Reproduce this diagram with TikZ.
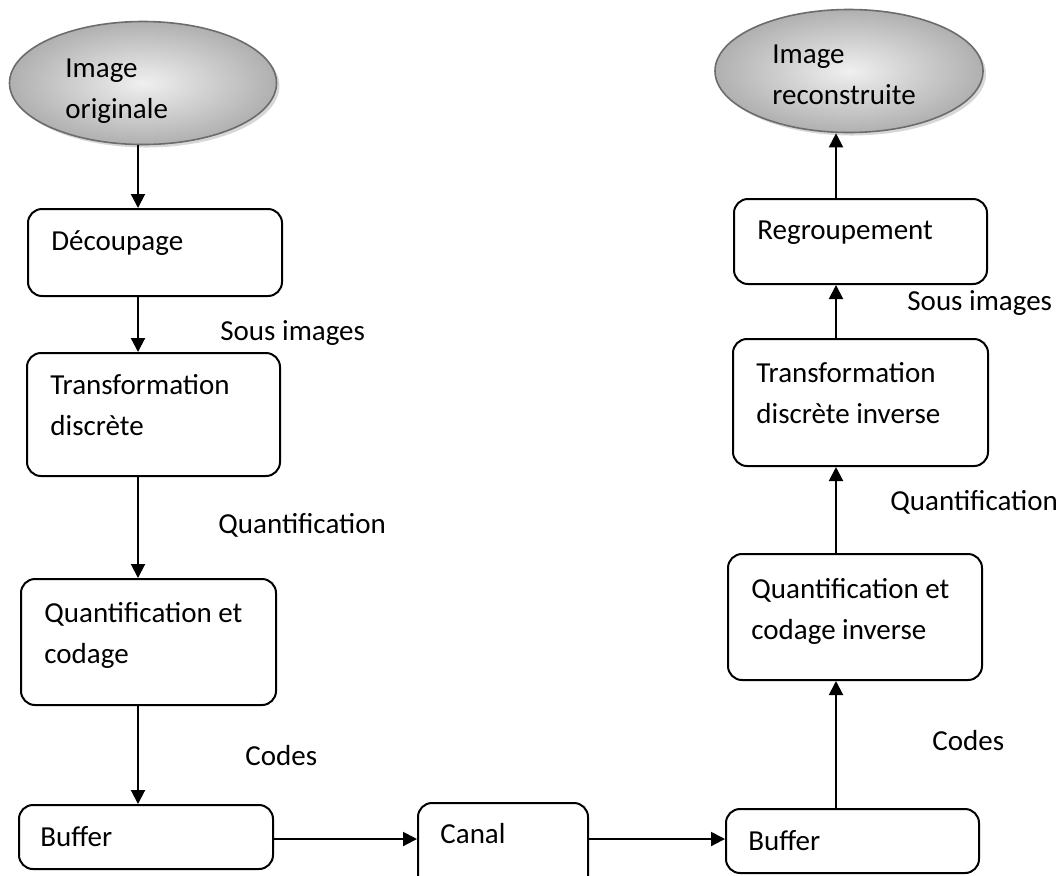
\documentclass[tikz,border=0pt]{standalone}
\usepackage{fontspec}
\setmainfont{Carlito}
\usetikzlibrary{arrows.meta,shadows,shapes.geometric}

\begin{document}
\begin{tikzpicture}[x=0.5pt,y=-0.5pt,
  font=\fontsize{14.5}{20.8}\selectfont,
  box/.style={draw, line width=1pt, rounded corners=7pt, anchor=north west,
    inner sep=0pt},
  oval/.style={ellipse, draw=gray!85!black, line width=0.8pt, inner sep=0pt,
    shading=radial, inner color=gray!12, outer color=gray!62,
    drop shadow={shadow xshift=1.5pt, shadow yshift=-1.5pt, fill=gray!70,
      opacity=0.45}},
  txt/.style={anchor=base west, inner sep=0pt, align=left},
  % two-line texts: the base anchor sits on the last line, so move down one line
  txttwo/.style={txt, yshift=-20.8pt},
  lbl/.style={anchor=base west, inner sep=0pt},
  arr/.style={line width=1pt, -{Triangle[length=7pt,width=7pt]}}]

\useasboundingbox (0,0) rectangle (1064,875);

% columns and row used by the connectors
\coordinate (colL) at (138,0);
\coordinate (colR) at (836,0);
\coordinate (rowB) at (0,839);

% coder (left column)
\node[oval, minimum width=133.5pt, minimum height=61.5pt] (ellL) at (143,83) {};
\node[box, minimum width=127pt,   minimum height=43.5pt] (dec)  at (27,208) {};
\node[box, minimum width=126.5pt, minimum height=61.5pt] (tdis) at (26,352) {};
\node[box, minimum width=127.5pt, minimum height=63pt]   (qc)   at (20,578) {};
\node[box, minimum width=127pt,   minimum height=32pt]   (bufL) at (18,804) {};

% channel
\node[box, minimum width=85pt, minimum height=60pt] (canal) at (417,802) {};

% decoder (right column)
\node[box, minimum width=126.5pt, minimum height=32pt]   (bufR) at (725,808) {};
\node[box, minimum width=127pt,   minimum height=63pt]   (qci)  at (727,553) {};
\node[box, minimum width=127.5pt, minimum height=63.5pt] (tdi)  at (732,338) {};
\node[box, minimum width=126.5pt, minimum height=42.5pt] (reg)  at (733,198) {};
\node[oval, minimum width=134pt, minimum height=61.5pt] (ellR) at (849,71) {};

% texts inside the shapes
\node[txttwo] (tellL) at (65,77)  {Image\\originale};
\node[txt] (tdec)  at ([shift={(24,42)}]dec.north west)  {Découpage};
\node[txttwo] (ttdis) at ([shift={(24,42)}]tdis.north west) {Transformation\\discrète};
\node[txttwo] (tqc)   at ([shift={(24,44)}]qc.north west)   {Quantification et\\codage};
\node[txt] (tbufL) at ([shift={(22,42)}]bufL.north west) {Buffer};
\node[txt] (tcan)  at ([shift={(23,41)}]canal.north west) {Canal};
\node[txt] (tbufR) at ([shift={(23,42)}]bufR.north west) {Buffer};
\node[txttwo] (tqci)  at ([shift={(24,45)}]qci.north west)  {Quantification et\\codage inverse};
\node[txttwo] (ttdi)  at ([shift={(24,44)}]tdi.north west)  {Transformation\\discrète inverse};
\node[txt] (treg)  at ([shift={(24,41)}]reg.north west)  {Regroupement};
\node[txttwo] (tellR) at (772,63) {Image\\reconstruite};

% connector labels
\node[lbl] (l1) at (220,340) {Sous images};
\node[lbl] (l2) at (218,533) {Quantification};
\node[lbl] (l3) at (245,765) {Codes};
\node[lbl] (r1) at (907,310) {Sous images};
\node[lbl] (r2) at (890,510) {Quantification};
\node[lbl] (r3) at (932,750) {Codes};

% connectors
\draw[arr] (ellL.south -| colL) -- (dec.north -| colL);
\draw[arr] (dec.south -| colL)  -- (tdis.north -| colL);
\draw[arr] (tdis.south -| colL) -- (qc.north -| colL);
\draw[arr] (qc.south -| colL)   -- (bufL.north -| colL);
\draw[arr] (bufL.east |- rowB)  -- (canal.west |- rowB);
\draw[arr] (canal.east |- rowB) -- (bufR.west |- rowB);
\draw[arr] (bufR.north -| colR) -- (qci.south -| colR);
\draw[arr] (qci.north -| colR)  -- (tdi.south -| colR);
\draw[arr] (tdi.north -| colR)  -- (reg.south -| colR);
\draw[arr] (reg.north -| colR)  -- (ellR.south -| colR);
\end{tikzpicture}
\end{document}
